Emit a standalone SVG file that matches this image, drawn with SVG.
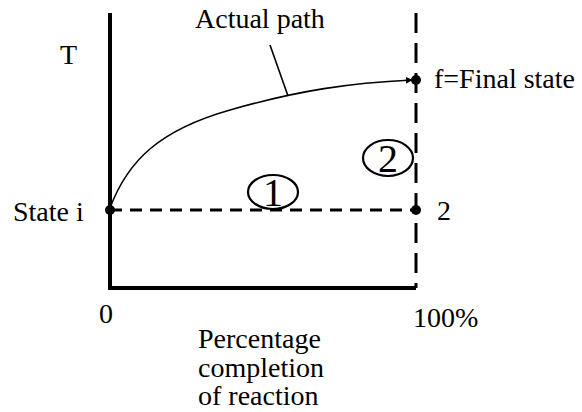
<svg xmlns="http://www.w3.org/2000/svg" width="582" height="412" viewBox="0 0 582 412">
<style>
text{font-family:"Liberation Serif","Times New Roman",serif;font-size:28px;fill:#000}
.axis{stroke:#000;stroke-width:4;fill:none}
.dash{stroke:#000;stroke-width:3;fill:none}
.thin{stroke:#000;stroke-width:1.6;fill:none}
.dot{fill:#000}
.circ{stroke:#000;stroke-width:2.2;fill:none}
.num{font-size:40px;text-anchor:middle}
</style>
<defs>
<marker id="arr" viewBox="0 0 10 10" refX="9" refY="5" markerWidth="7" markerHeight="7" markerUnits="userSpaceOnUse" orient="auto">
<path d="M0,0 L10,5 L0,10 z" fill="#000"/>
</marker>
</defs>
<g id="axes">
<path class="axis" d="M110,13 V288 H416"/>
</g>
<g id="connectors">
<path class="dash" d="M416,13 V288" stroke-dasharray="20,10"/>
<path class="dash" d="M110,210 H416" stroke-dasharray="12,8" stroke-width="2.5"/>
<path class="thin" d="M110,208 C128,160 160,130 230,110 S350,83 412,80" marker-end="url(#arr)"/>
<path class="thin" d="M270,45 L288,96"/>
</g>
<g id="state-i">
<circle class="dot" cx="110" cy="210" r="5"/>
<text x="13" y="221">State i</text>
</g>
<g id="state-2">
<circle class="dot" cx="416" cy="210" r="5"/>
<text x="437" y="220">2</text>
</g>
<g id="state-f">
<circle class="dot" cx="416" cy="80" r="5"/>
<text x="434" y="88">f=Final state</text>
</g>
<g id="label-path"><text x="195" y="28">Actual path</text></g>
<g id="label-T"><text x="60" y="64">T</text></g>
<g id="label-0"><text x="99" y="323">0</text></g>
<g id="label-100"><text x="413" y="327">100%</text></g>
<g id="label-x" font-size="29">
<text x="198" y="348" font-size="29">Percentage</text>
<text x="198" y="377" font-size="29">completion</text>
<text x="198" y="405" font-size="29">of reaction</text>
</g>
<g id="step-1">
<ellipse class="circ" cx="273" cy="192" rx="25" ry="17"/>
<text class="num" x="273" y="206">1</text>
</g>
<g id="step-2">
<ellipse class="circ" cx="388" cy="158" rx="25" ry="18"/>
<text class="num" x="388" y="172">2</text>
</g>
</svg>
